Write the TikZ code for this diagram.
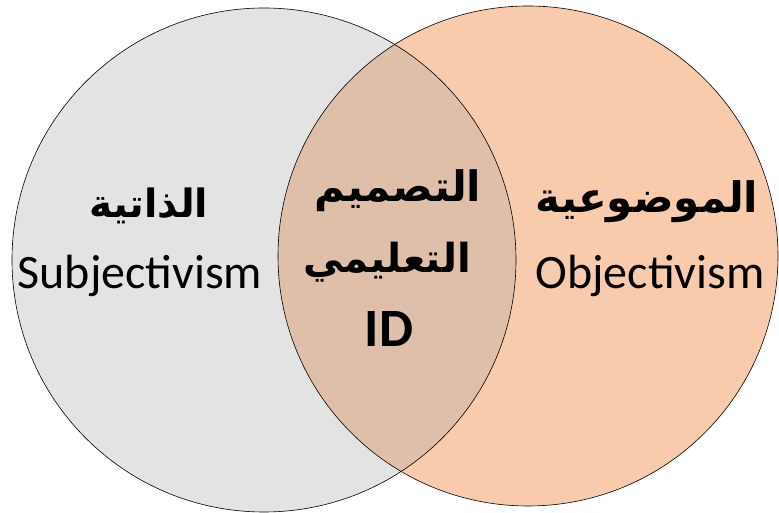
\documentclass[tikz,border=0pt]{standalone}
\usepackage{fontspec}
\setmainfont{Carlito}
\newfontfamily\arabicfont[Script=Arabic]{DejaVu Sans}
\TeXXeTstate=1
\definecolor{setgray}{HTML}{E3E3E3}
\definecolor{setpeach}{HTML}{F8CBAD}
\definecolor{setboth}{HTML}{DFBFA9}
\begin{document}
\begin{tikzpicture}[x=1pt,y=1pt,
    arlabel/.style={font=\arabicfont\bfseries\fontsize{41}{45}\selectfont, inner sep=0pt},
    enlabel/.style={font=\fontsize{48}{52}\selectfont, inner sep=0pt, anchor=base}]
    \useasboundingbox (0,0) rectangle (779,513);
    % 
    \fill[setgray] (264,253) circle (252);
    \fill[setpeach] (528,257) circle (250);
    \begin{scope}
      \clip (264,253) circle (252);
      \fill[setboth] (528,257) circle (250);
    \end{scope}
    \draw[black, line width=0.6pt] (264,253) circle (252);
    \draw[black, line width=0.6pt] (528,257) circle (250);
    % 
    \node[arlabel, font=\arabicfont\bfseries\fontsize{39}{43}\selectfont] (subjar) at (149,307) {\beginR الذاتية\endR};
    \node[enlabel] (subjen) at (140,224) {Subjectivism};
    % 
    \node[arlabel, font=\arabicfont\bfseries\fontsize{42}{46}\selectfont] (objar) at (647,311) {\beginR الموضوعية\endR};
    \node[enlabel] (objen) at (650,224) {Objectivism};
    % 
    \node[arlabel, font=\arabicfont\bfseries\fontsize{42}{46}\selectfont] (idtop) at (398,322) {\beginR التصميم\endR};
    \node[arlabel, font=\arabicfont\bfseries\fontsize{40}{44}\selectfont] (idmid) at (387,251) {\beginR التعليمي\endR};
    \node[enlabel, font=\bfseries\fontsize{54}{58}\selectfont] (idabbr) at (389,166) {ID};
\end{tikzpicture}
\end{document}
